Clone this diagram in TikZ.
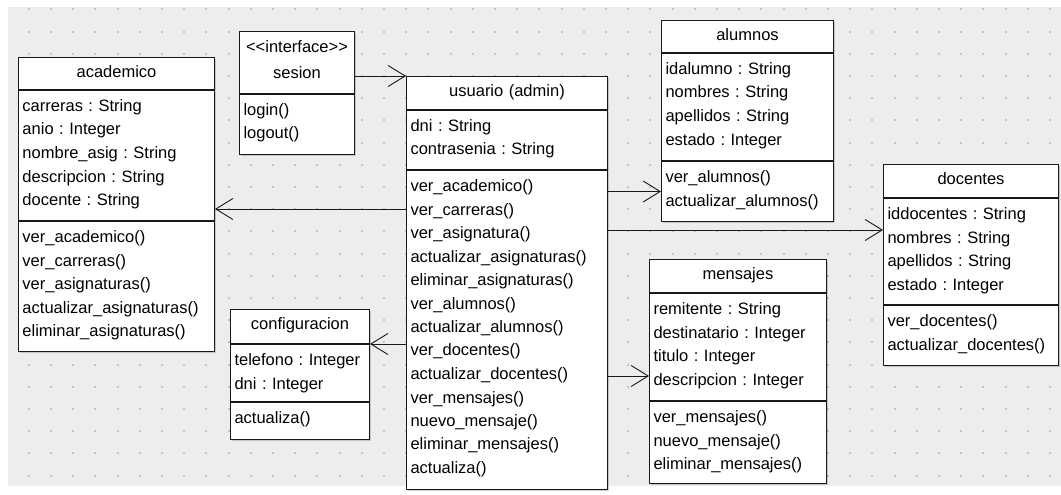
\documentclass[tikz,border=0pt]{standalone}
\usepackage{fontspec}
\setmainfont{Liberation Sans}
\usetikzlibrary{arrows.meta,shadows}
\definecolor{canvas}{HTML}{EDEDED}
\definecolor{griddot}{HTML}{C4C4C4}
\tikzset{
  umlhead/.style={draw=black!90, line width=1pt, fill=white, anchor=north west,
    inner xsep=4pt, inner ysep=0pt, align=center, text height=20pt, text depth=13pt,
    font=\fontsize{16.5pt}{23.5pt}\selectfont\frenchspacing,
    drop shadow={shadow xshift=1.5pt, shadow yshift=-1.5pt, fill=black!60, opacity=0.3}},
  umlpart/.style={umlhead, align=left, text height=21pt},
  assoc/.style={draw=black!90, line width=0.9pt,
    -{Straight Barb[length=17pt, width=21pt, line width=0.9pt]}}
}
\begin{document}
\begin{tikzpicture}[x=1pt, y=-1pt]
  \useasboundingbox (0,0) rectangle (1061,495);
  % canvas with dotted grid
  \fill[white] (0,0) rectangle (1061,495);
  \fill[canvas] (8,7) rectangle (1061,486);
  \foreach \i in {0,...,46}
    \foreach \j in {0,...,21}
      \fill[griddot] ({28.8+22.2*\i-1}, {9.4+22.2*\j-1}) rectangle +(2,2);

  % academico
  \node[umlhead, text width=188pt, text depth=12pt] (aca) at (18,57) {academico};
  \node[umlpart, text width=188pt, text depth=109pt] (aca-attr) at (aca.south west)
    {carreras : String\\anio : Integer\\nombre\_asig : String\\descripcion : String\\docente : String};
  \node[umlpart, text width=188pt, text depth=109pt] (aca-ops) at (aca-attr.south west)
    {ver\_academico()\\ver\_carreras()\\ver\_asignaturas()\\actualizar\_asignaturas()\\eliminar\_asignaturas()};

  % sesion (interface)
  \node[umlhead, text width=107pt, text height=21.5pt, text depth=40.5pt] (ses) at (239,31)
    {<\kern0pt<interface>\kern0pt>\\[2pt]sesion};
  \node[umlpart, text width=107pt, text depth=39pt] (ses-ops) at (ses.south west)
    {login()\\logout()};

  % usuario
  \node[umlhead, text width=193pt] (usu) at (406,76) {usuario (admin)};
  \node[umlpart, text width=193pt, text depth=38pt] (usu-attr) at (usu.south west)
    {dni : String\\contrasenia : String};
  \node[umlpart, text width=193pt, text depth=298pt] (usu-ops) at (usu-attr.south west)
    {ver\_academico()\\ver\_carreras()\\ver\_asignatura()\\actualizar\_asignaturas()\\eliminar\_asignaturas()\\ver\_alumnos()\\actualizar\_alumnos()\\ver\_docentes()\\actualizar\_docentes()\\ver\_mensajes()\\nuevo\_mensaje()\\eliminar\_mensajes()\\actualiza()};

  % alumnos
  \node[umlhead, text width=164pt, text depth=12pt] (alu) at (661,20) {alumnos};
  \node[umlpart, text width=164pt, text depth=86pt] (alu-attr) at (alu.south west)
    {idalumno : String\\nombres : String\\apellidos : String\\estado : Integer};
  \node[umlpart, text width=164pt, text depth=39pt] (alu-ops) at (alu-attr.south west)
    {ver\_alumnos()\\actualizar\_alumnos()};

  % docentes
  \node[umlhead, text width=167pt] (doc) at (883,164) {docentes};
  \node[umlpart, text width=167pt, text depth=85pt] (doc-attr) at (doc.south west)
    {iddocentes : String\\nombres : String\\apellidos : String\\estado : Integer};
  \node[umlpart, text width=167pt, text depth=39pt] (doc-ops) at (doc-attr.south west)
    {ver\_docentes()\\actualizar\_docentes()};

  % mensajes
  \node[umlhead, text width=169pt] (men) at (649,259) {mensajes};
  \node[umlpart, text width=169pt, text depth=86pt] (men-attr) at (men.south west)
    {remitente : String\\destinatario : Integer\\titulo : Integer\\descripcion : Integer};
  \node[umlpart, text width=169pt, text depth=61pt] (men-ops) at (men-attr.south west)
    {ver\_mensajes()\\nuevo\_mensaje()\\eliminar\_mensajes()};

  % configuracion
  \node[umlhead, text width=131pt, text depth=14pt] (con) at (230,309) {configuracion};
  \node[umlpart, text width=131pt, text depth=36pt] (con-attr) at (con.south west)
    {telefono : Integer\\dni : Integer};
  \node[umlpart, text width=131pt, text depth=16pt] (con-ops) at (con-attr.south west)
    {actualiza()};

  % associations
  \draw[assoc] (ses.east |- usu.north west) -- (usu.north west);
  \draw[assoc] (usu-ops.west |- 0,209) -- (aca-attr.east |- 0,209);
  \draw[assoc] (usu-ops.east |- alu-ops.west) -- (alu-ops.west);
  \draw[assoc] (usu-ops.east |- 0,230) -- (doc-attr.west |- 0,230);
  \draw[assoc] (usu-ops.west |- con-attr.north east) -- (con-attr.north east);
  \draw[assoc] (usu-ops.east |- 0,376) -- (men-attr.west |- 0,376);
\end{tikzpicture}
\end{document}
